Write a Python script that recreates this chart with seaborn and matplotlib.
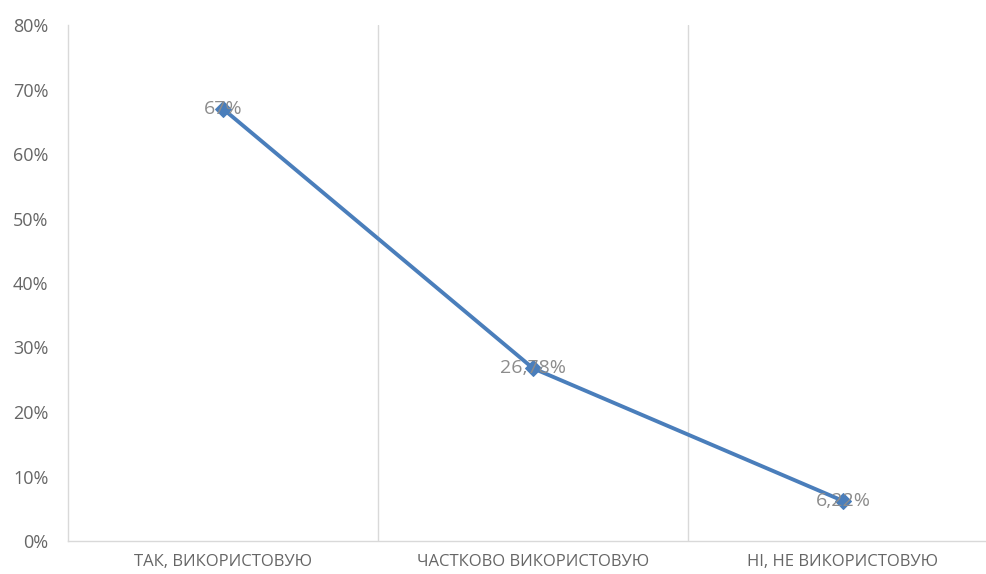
import numpy as np
import pandas as pd
import matplotlib
matplotlib.use("Agg")
import matplotlib.pyplot as plt
import seaborn as sns
from matplotlib.ticker import PercentFormatter

#data
categories = ["ТАК, ВИКОРИСТОВУЮ", "ЧАСТКОВО ВИКОРИСТОВУЮ", "НІ, НЕ ВИКОРИСТОВУЮ"]
values = [0.67, 0.2678, 0.0622]
labels = ["67%", "26,78%", "6,22%"]
yticks = [0, 0.1, 0.2, 0.3, 0.4, 0.5, 0.6, 0.7, 0.8]

df = pd.DataFrame({"answer": categories, "share": values})

sns.set_style("white")
plt.rcParams['font.family'] = ['Open Sans', 'DejaVu Sans']

fig = plt.figure(figsize=(9.87, 5.74), dpi=100)
# plot area runs a bit past the right edge, as in the original
ax = fig.add_axes([68/987, 33/574, 930/987, 516/574])

sns.lineplot(data=df, x="answer", y="share", ax=ax, color="#4a7ebb",
             linewidth=2.8, marker="D", markersize=8.5, markeredgecolor="#4a7ebb")

for i, (v, t) in enumerate(zip(values, labels)):
    ax.text(i, v, t, ha="center", va="center", fontsize=14, color="#8c8c8c")

ax.set_xlim(-0.5, 2.5)
ax.set_ylim(0, 0.8)
ax.set_yticks(yticks)
ax.yaxis.set_major_formatter(PercentFormatter(1.0, decimals=0))
ax.set_xlabel("")
ax.set_ylabel("")

# category gridlines between the groups
ax.set_xticks([0.5, 1.5], minor=True)
ax.grid(axis="x", which="minor", color="#d9d9d9", linewidth=1)
ax.grid(axis="y", visible=False)

ax.tick_params(axis="y", length=0, labelsize=13, labelcolor="#666666", pad=14)
ax.tick_params(axis="x", length=0, labelsize=12, labelcolor="#666666", pad=9)

for s in ["top", "right"]:
    ax.spines[s].set_visible(False)
ax.spines["left"].set_color("#d9d9d9")
ax.spines["bottom"].set_color("#d9d9d9")
ax.spines["left"].set_linewidth(1)
ax.spines["bottom"].set_linewidth(1)

fig.savefig("out.png", dpi=100)
